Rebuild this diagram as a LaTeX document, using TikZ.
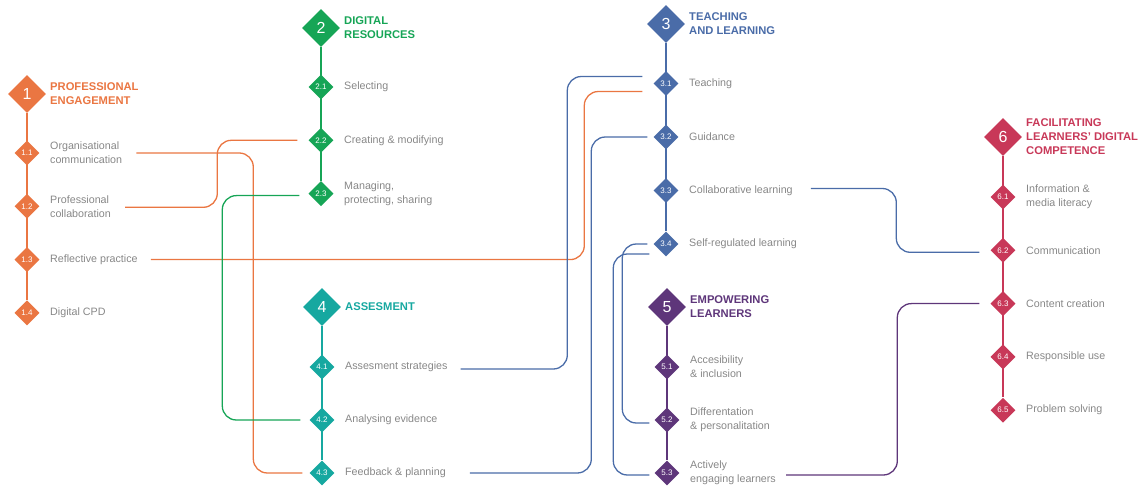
\documentclass[tikz,border=0pt]{standalone}
\usepackage{fontspec}
\setmainfont{Liberation Sans}
\usetikzlibrary{shapes.geometric,backgrounds}
\definecolor{engage}{RGB}{234,118,66}
\definecolor{resource}{RGB}{22,165,86}
\definecolor{teach}{RGB}{74,108,168}
\definecolor{assess}{RGB}{22,168,160}
\definecolor{empower}{RGB}{94,54,122}
\definecolor{facil}{RGB}{200,56,88}
\definecolor{itemgray}{RGB}{135,135,135}
\tikzset{
  big/.style={diamond, fill=#1, minimum size=38pt, inner sep=0pt, text=white,
    font=\fontsize{16}{16}\selectfont},
  sub/.style={diamond, fill=#1, minimum size=25pt, inner sep=0pt, text=white,
    font=\fontsize{8}{8}\selectfont},
  head/.style={anchor=west, inner sep=0pt, align=left, text=#1,
    font=\bfseries\fontsize{11.2}{14}\selectfont},
  item/.style={anchor=west, inner sep=0pt, align=left, text=itemgray,
    font=\fontsize{10.7}{14}\selectfont},
  spine/.style={draw=#1, line width=1.6pt},
  link/.style={draw=#1, line width=1.3pt, rounded corners=14pt}
}
\begin{document}
\begin{tikzpicture}[x=1pt,y=-1pt]
\useasboundingbox (0,0) rectangle (1146,486);
% 1 professional engagement
\node[big=engage] (d1) at (27,94) {1};
\node[head=engage] (h1) at (50,94) {PROFESSIONAL\\ENGAGEMENT};
\foreach \i/\t in {1/{Organisational\\communication},2/{Professional\\collaboration},
  3/{Reflective practice},4/{Digital CPD}} {
  \node[sub=engage] (d1\i) at (27,{153+(\i-1)*53.3}) {1.\i};
  \node[item] (t1\i) at (50,{153+(\i-1)*53.3}) {\t};
}
% 2 digital resources
\node[big=resource] (d2) at (321,28) {2};
\node[head=resource] (h2) at (344,28) {DIGITAL\\RESOURCES};
\foreach \i/\t in {1/{Selecting},2/{Creating \& modifying},3/{Managing,\\protecting, sharing}} {
  \node[sub=resource] (d2\i) at (321,{87+(\i-1)*53.3}) {2.\i};
  \node[item] (t2\i) at (344,{87+(\i-1)*53.3}) {\t};
}
% 3 teaching and learning
\node[big=teach] (d3) at (666,24) {3};
\node[head=teach] (h3) at (689,24) {TEACHING\\AND LEARNING};
\foreach \i/\t in {1/{Teaching},2/{Guidance},3/{Collaborative learning},4/{Self-regulated learning}} {
  \node[sub=teach] (d3\i) at (666,{83.5+(\i-1)*53.5}) {3.\i};
  \node[item] (t3\i) at (689,{83.5+(\i-1)*53.5}) {\t};
}
% 4 assesment
\node[big=assess] (d4) at (322,307) {4};
\node[head=assess] (h4) at (345,307) {ASSESMENT};
\foreach \i/\t in {1/{Assesment strategies},2/{Analysing evidence},3/{Feedback \& planning}} {
  \node[sub=assess] (d4\i) at (322,{367+(\i-1)*53}) {4.\i};
  \node[item] (t4\i) at (345,{367+(\i-1)*53}) {\t};
}
% 5 empowering learners
\node[big=empower] (d5) at (667,307) {5};
\node[head=empower] (h5) at (690,307) {EMPOWERING\\LEARNERS};
\foreach \i/\t in {1/{Accesibility\\\& inclusion},2/{Differentation\\\& personalitation},
  3/{Actively\\engaging learners}} {
  \node[sub=empower] (d5\i) at (667,{367+(\i-1)*53}) {5.\i};
  \node[item] (t5\i) at (690,{367+(\i-1)*53}) {\t};
}
% 6 facilitating learners' digital competence
\node[big=facil] (d6) at (1003,137) {6};
\node[head=facil] (h6) at (1026,137) {FACILITATING\\LEARNERS’ DIGITAL\\COMPETENCE};
\foreach \i/\t in {1/{Information \&\\media literacy},2/{Communication},3/{Content creation},
  4/{Responsible use},5/{Problem solving}} {
  \node[sub=facil] (d6\i) at (1003,{197+(\i-1)*53.3}) {6.\i};
  \node[item] (t6\i) at (1026,{197+(\i-1)*53.3}) {\t};
}
% spines
\begin{scope}[on background layer]
  \draw[spine=engage] (d1) -- (d14);
  \draw[spine=resource] (d2) -- (d23);
  \draw[spine=teach] (d3) -- (d34);
  \draw[spine=assess] (d4) -- (d43);
  \draw[spine=empower] (d5) -- (d53);
  \draw[spine=facil] (d6) -- (d65);
\end{scope}
% links
\draw[link=engage] ([xshift=14pt]t11.east) -| ([xshift=-56pt]d43.west) -- ([xshift=-7pt]d43.west);
\draw[link=engage] ([xshift=14pt,yshift=-1pt]t12.east) -| ([xshift=-91pt]d22.west) -- ([xshift=-11pt]d22.west);
\draw[link=engage] ([xshift=13pt]t13.east) -| ([xshift=-69pt,yshift=-8pt]d31.west) -- ([xshift=-11pt,yshift=-8pt]d31.west);
\draw[link=resource] ([xshift=-9pt,yshift=-2pt]d23.west) -| ([xshift=-87pt]d42.west) -- ([xshift=-9pt]d42.west);
\draw[link=teach] ([xshift=13pt,yshift=-2pt]t41.east) -| ([xshift=-86pt,yshift=7pt]d31.west) -- ([xshift=-11pt,yshift=7pt]d31.west);
\draw[link=teach] ([xshift=24pt]t43.east) -| ([xshift=-62pt]d32.west) -- ([xshift=-6pt]d32.west);
\draw[link=teach] ([xshift=-6pt]d34.west) -| ([xshift=-32pt,yshift=-3pt]d52.west) -- ([xshift=-5pt,yshift=-3pt]d52.west);
\draw[link=teach] ([xshift=-4pt,yshift=-10pt]d34.west) -| ([xshift=-41pt,yshift=-2pt]d53.west) -- ([xshift=-5pt,yshift=-2pt]d53.west);
\draw[link=teach] ([xshift=18pt,yshift=2pt]t33.east) -| ([xshift=-94pt,yshift=-2pt]d62.west) -- ([xshift=-11pt,yshift=-2pt]d62.west);
\draw[link=empower] ([xshift=10pt,yshift=-2pt]t53.east) -| ([xshift=-93pt]d63.west) -- ([xshift=-11pt]d63.west);
\end{tikzpicture}
\end{document}
